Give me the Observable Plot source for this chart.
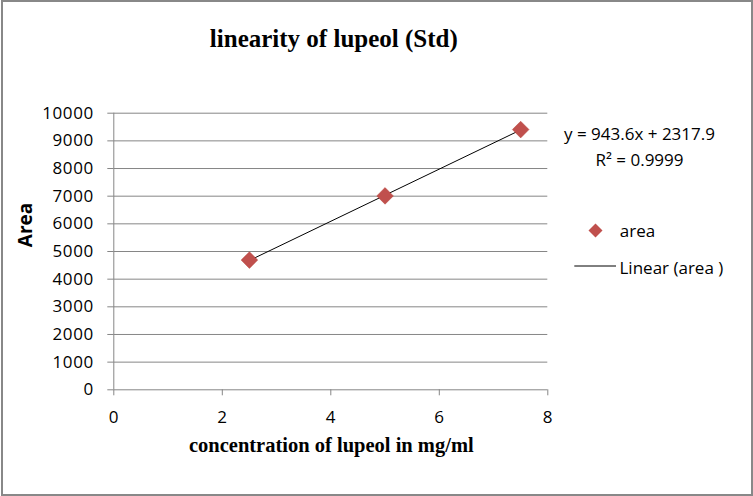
<!DOCTYPE html>
<html><head><meta charset="utf-8">
<script src="https://cdn.jsdelivr.net/npm/d3@7"></script>
<script src="https://cdn.jsdelivr.net/npm/@observablehq/plot@0.6"></script>
<style>
body{margin:0;background:#fff}
#wrap{position:relative;width:753px;height:496px;overflow:hidden}
#border{position:absolute;left:1px;top:0;width:751.5px;height:496px;box-sizing:border-box;border:2px solid #888;pointer-events:none}
g[aria-label="y-axis tick label"] text, g[aria-label="x-axis tick label"] text{letter-spacing:0.6px}
</style></head><body><div id="wrap"><div id="chart"></div><div id="border"></div></div>
<script>
const concentration = [2.5, 5, 7.5];
const area = [4690, 7010, 9408];
const xTicks = [0, 2, 4, 6, 8];
const yTicks = [0, 1000, 2000, 3000, 4000, 5000, 6000, 7000, 8000, 9000, 10000];
const titleText = "linearity of lupeol (Std)";
const xLabel = "concentration of lupeol in mg/ml";
const yLabel = "Area";
const equationText = "y = 943.6x + 2317.9";
const r2Text = "R² = 0.9999";
const seriesName = "area";
const trendName = "Linear (area )";

const data = concentration.map((c, i) => ({c, a: area[i]}));
const red = "#C0504D";
const grid = "#868686";
const sans = "'Open Sans', sans-serif";
const serif = "'Liberation Serif', 'Times New Roman', serif";

function legendLine(index, scales, values, dims) {
  const x0 = dims.width - dims.marginRight;
  const y0 = dims.marginTop;
  return d3.create("svg:line")
    .attr("x1", x0 + 27).attr("x2", x0 + 68.7)
    .attr("y1", y0 + 153.3).attr("y2", y0 + 153.3)
    .attr("stroke", "#000").attr("stroke-width", 1).node();
}

const chart = Plot.plot({
  width: 753,
  height: 496,
  marginLeft: 113.3,
  marginRight: 205.7,
  marginTop: 112.7,
  marginBottom: 106.7,
  style: {background: "#fff", fontFamily: sans},
  x: {domain: [0, 8]},
  y: {domain: [0, 10000]},
  marks: [
    Plot.gridY(yTicks, {stroke: grid, strokeOpacity: 1}),
    Plot.ruleX([0], {stroke: grid}),
    Plot.axisY(yTicks, {tickSize: 6, tickPadding: 14, stroke: grid, fontSize: 17, fill: "#000", label: null, tickFormat: d => String(d)}),
    Plot.axisX(xTicks, {tickSize: 6, tickPadding: 15, stroke: grid, fontSize: 17, fill: "#000", label: null}),
    Plot.linearRegressionY(data, {x: "c", y: "a", stroke: "#000", strokeWidth: 1, ci: 0}),
    Plot.dot(data, {x: "c", y: "a", symbol: "diamond2", r: 7.5, fill: red, stroke: "#B9473F", strokeWidth: 0.5}),
    Plot.text([titleText], {frameAnchor: "top", dx: 3, dy: -74, lineAnchor: "middle", fontFamily: serif, fontWeight: "bold", fontSize: 25, fill: "#000"}),
    Plot.text([xLabel], {frameAnchor: "bottom", dx: 0.5, dy: 56, lineAnchor: "middle", fontFamily: serif, fontWeight: "bold", fontSize: 20.5, fill: "#000"}),
    Plot.text([yLabel], {frameAnchor: "left", dx: -88.3, dy: -4.3, rotate: -90, lineAnchor: "middle", fontFamily: sans, fontWeight: "bold", fontSize: 19, fill: "#000"}),
    Plot.text([equationText], {frameAnchor: "top-right", dx: 91.7, dy: 21.2, textAnchor: "middle", lineAnchor: "middle", fontSize: 17, fill: "#000"}),
    Plot.text([r2Text], {frameAnchor: "top-right", dx: 91.7, dy: 46.9, textAnchor: "middle", lineAnchor: "middle", fontSize: 17, fill: "#000"}),
    Plot.dot([seriesName], {frameAnchor: "top-right", dx: 47.7, dy: 117.3, symbol: "diamond2", r: 6.3, fill: red}),
    Plot.text([seriesName], {frameAnchor: "top-right", dx: 72, dy: 117.9, textAnchor: "start", lineAnchor: "middle", fontSize: 17, fill: "#000"}),
    legendLine,
    Plot.text([trendName], {frameAnchor: "top-right", dx: 71.7, dy: 154.9, textAnchor: "start", lineAnchor: "middle", fontSize: 17, fill: "#000"})
  ]
});
document.getElementById("chart").appendChild(chart);
</script></body></html>
